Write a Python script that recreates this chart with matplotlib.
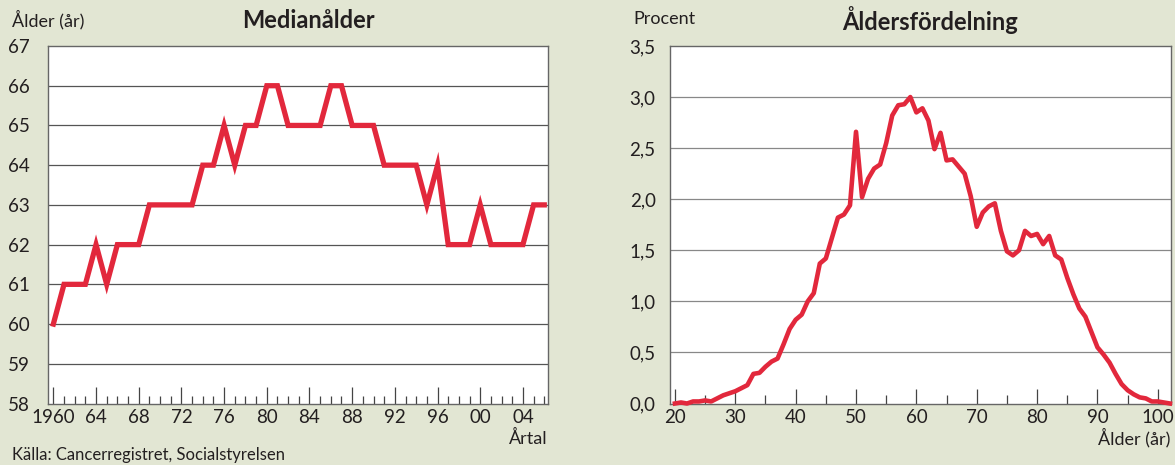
import matplotlib
matplotlib.use("Agg")
import matplotlib.pyplot as plt
from matplotlib.ticker import FixedLocator, FuncFormatter

plt.rcParams['font.family'] = ['Lato', 'DejaVu Sans']

# ---- data ----
years = list(range(1960, 2007))
median_age = [60, 61, 61, 61, 62, 61, 62, 62, 62, 63,
              63, 63, 63, 63, 64, 64, 65, 64, 65, 65,
              66, 66, 65, 65, 65, 65, 66, 66, 65, 65,
              65, 64, 64, 64, 64, 63, 64, 62, 62, 62,
              63, 62, 62, 62, 62, 63, 63]
year_major = [1960, 1964, 1968, 1972, 1976, 1980, 1984, 1988, 1992, 1996, 2000, 2004]
year_labels = ["1960", "64", "68", "72", "76", "80", "84", "88", "92", "96", "00", "04"]

ages = list(range(20, 103))
age_pct = [0.00, 0.01, 0.00, 0.02, 0.02, 0.03, 0.02, 0.05, 0.08, 0.10,
           0.12, 0.15, 0.18, 0.29, 0.30, 0.36, 0.41, 0.44, 0.58, 0.73,
           0.82, 0.87, 1.00, 1.08, 1.37, 1.42, 1.62, 1.82, 1.85, 1.94,
           2.66, 2.02, 2.20, 2.30, 2.34, 2.55, 2.82, 2.92, 2.93, 3.00,
           2.85, 2.89, 2.77, 2.49, 2.65, 2.38, 2.39, 2.32, 2.25, 2.03,
           1.73, 1.87, 1.93, 1.96, 1.69, 1.49, 1.45, 1.50, 1.69, 1.64,
           1.66, 1.56, 1.64, 1.45, 1.41, 1.23, 1.07, 0.93, 0.85, 0.70,
           0.55, 0.48, 0.40, 0.29, 0.19, 0.13, 0.09, 0.06, 0.05, 0.02,
           0.02, 0.01, 0.00]
age_major = [20, 30, 40, 50, 60, 70, 80, 90, 100]
pct_ticks = [0.0, 0.5, 1.0, 1.5, 2.0, 2.5, 3.0, 3.5]

BG = '#e2e6d3'
RED = '#e2283c'
TXT = '#231f20'

W, H = 1175, 465
fig = plt.figure(figsize=(W / 100, H / 100), dpi=100, facecolor=BG)

def box(l, r, t, b):
    return [l / W, 1 - b / H, (r - l) / W, (b - t) / H]

# ---- left chart ----
ax1 = fig.add_axes(box(48, 548, 46, 403.5))
ax1.set_facecolor('white')
ax1.plot(years, median_age, color=RED, lw=3.8, solid_joinstyle='miter', clip_on=False, zorder=3)
ax1.set_xlim(1959.5, 2006.35)
ax1.set_ylim(58, 67)
ax1.set_yticks(range(58, 68))
for v in range(59, 67):
    ax1.axhline(v, color='#555555', lw=0.9, zorder=1)
ax1.xaxis.set_major_locator(FixedLocator(year_major))
ax1.set_xticklabels(year_labels)
ax1.xaxis.set_minor_locator(FixedLocator(years))
ax1.tick_params(axis='x', which='major', direction='in', length=12, width=0.9, color='#444444',
                labelsize=13.5, pad=4, labelcolor=TXT)
ax1.tick_params(axis='x', which='minor', direction='in', length=6, width=0.9, color='#444444')
ax1.tick_params(axis='y', length=0, pad=13, labelsize=13.5, labelcolor=TXT)
for s in ax1.spines.values():
    s.set_color('#666666'); s.set_linewidth(1.0)

fig.text(12 / W, 1 - 20 / H, 'Ålder (år)', fontsize=13, color=TXT, va='center', ha='left')
fig.text(308 / W, 1 - 20 / H, 'Medianålder', fontsize=17, fontweight='bold', color=TXT,
         va='center', ha='center')
fig.text(548 / W, 1 - 438 / H, 'Årtal', fontsize=13, color=TXT, va='center', ha='right')
fig.text(12 / W, 1 - 455 / H, 'Källa: Cancerregistret, Socialstyrelsen', fontsize=12,
         color=TXT, va='center', ha='left')

# ---- right chart ----
ax2 = fig.add_axes(box(669.5, 1170.5, 46, 403.5))
ax2.set_facecolor('white')
ax2.plot(ages, age_pct, color=RED, lw=3.3, clip_on=False, zorder=3)
ax2.set_xlim(19.1, 102.1)
ax2.set_ylim(0, 3.5)
ax2.yaxis.set_major_locator(FixedLocator(pct_ticks))
ax2.yaxis.set_major_formatter(FuncFormatter(lambda v, p: f"{v:.1f}".replace('.', ',')))
for v in pct_ticks[1:-1]:
    ax2.axhline(v, color='#888888', lw=0.9, zorder=1)
ax2.xaxis.set_major_locator(FixedLocator(age_major))
ax2.xaxis.set_minor_locator(FixedLocator(list(range(25, 101, 10))))
ax2.tick_params(axis='x', which='major', direction='in', length=10.5, width=0.9, color='#444444',
                labelsize=13.5, pad=4, labelcolor=TXT)
ax2.tick_params(axis='x', which='minor', direction='in', length=6.5, width=0.9, color='#444444')
ax2.tick_params(axis='y', length=0, pad=10, labelsize=13.5, labelcolor=TXT)
for s in ax2.spines.values():
    s.set_color('#666666'); s.set_linewidth(1.0)

fig.text(633 / W, 1 - 19 / H, 'Procent', fontsize=13, color=TXT, va='center', ha='left')
fig.text(930 / W, 1 - 20 / H, 'Åldersfördelning', fontsize=17, fontweight='bold', color=TXT,
         va='center', ha='center')
fig.text(1170 / W, 1 - 438 / H, 'Ålder (år)', fontsize=13, color=TXT, va='center', ha='right')

fig.savefig('out.png', dpi=100, facecolor=BG)
